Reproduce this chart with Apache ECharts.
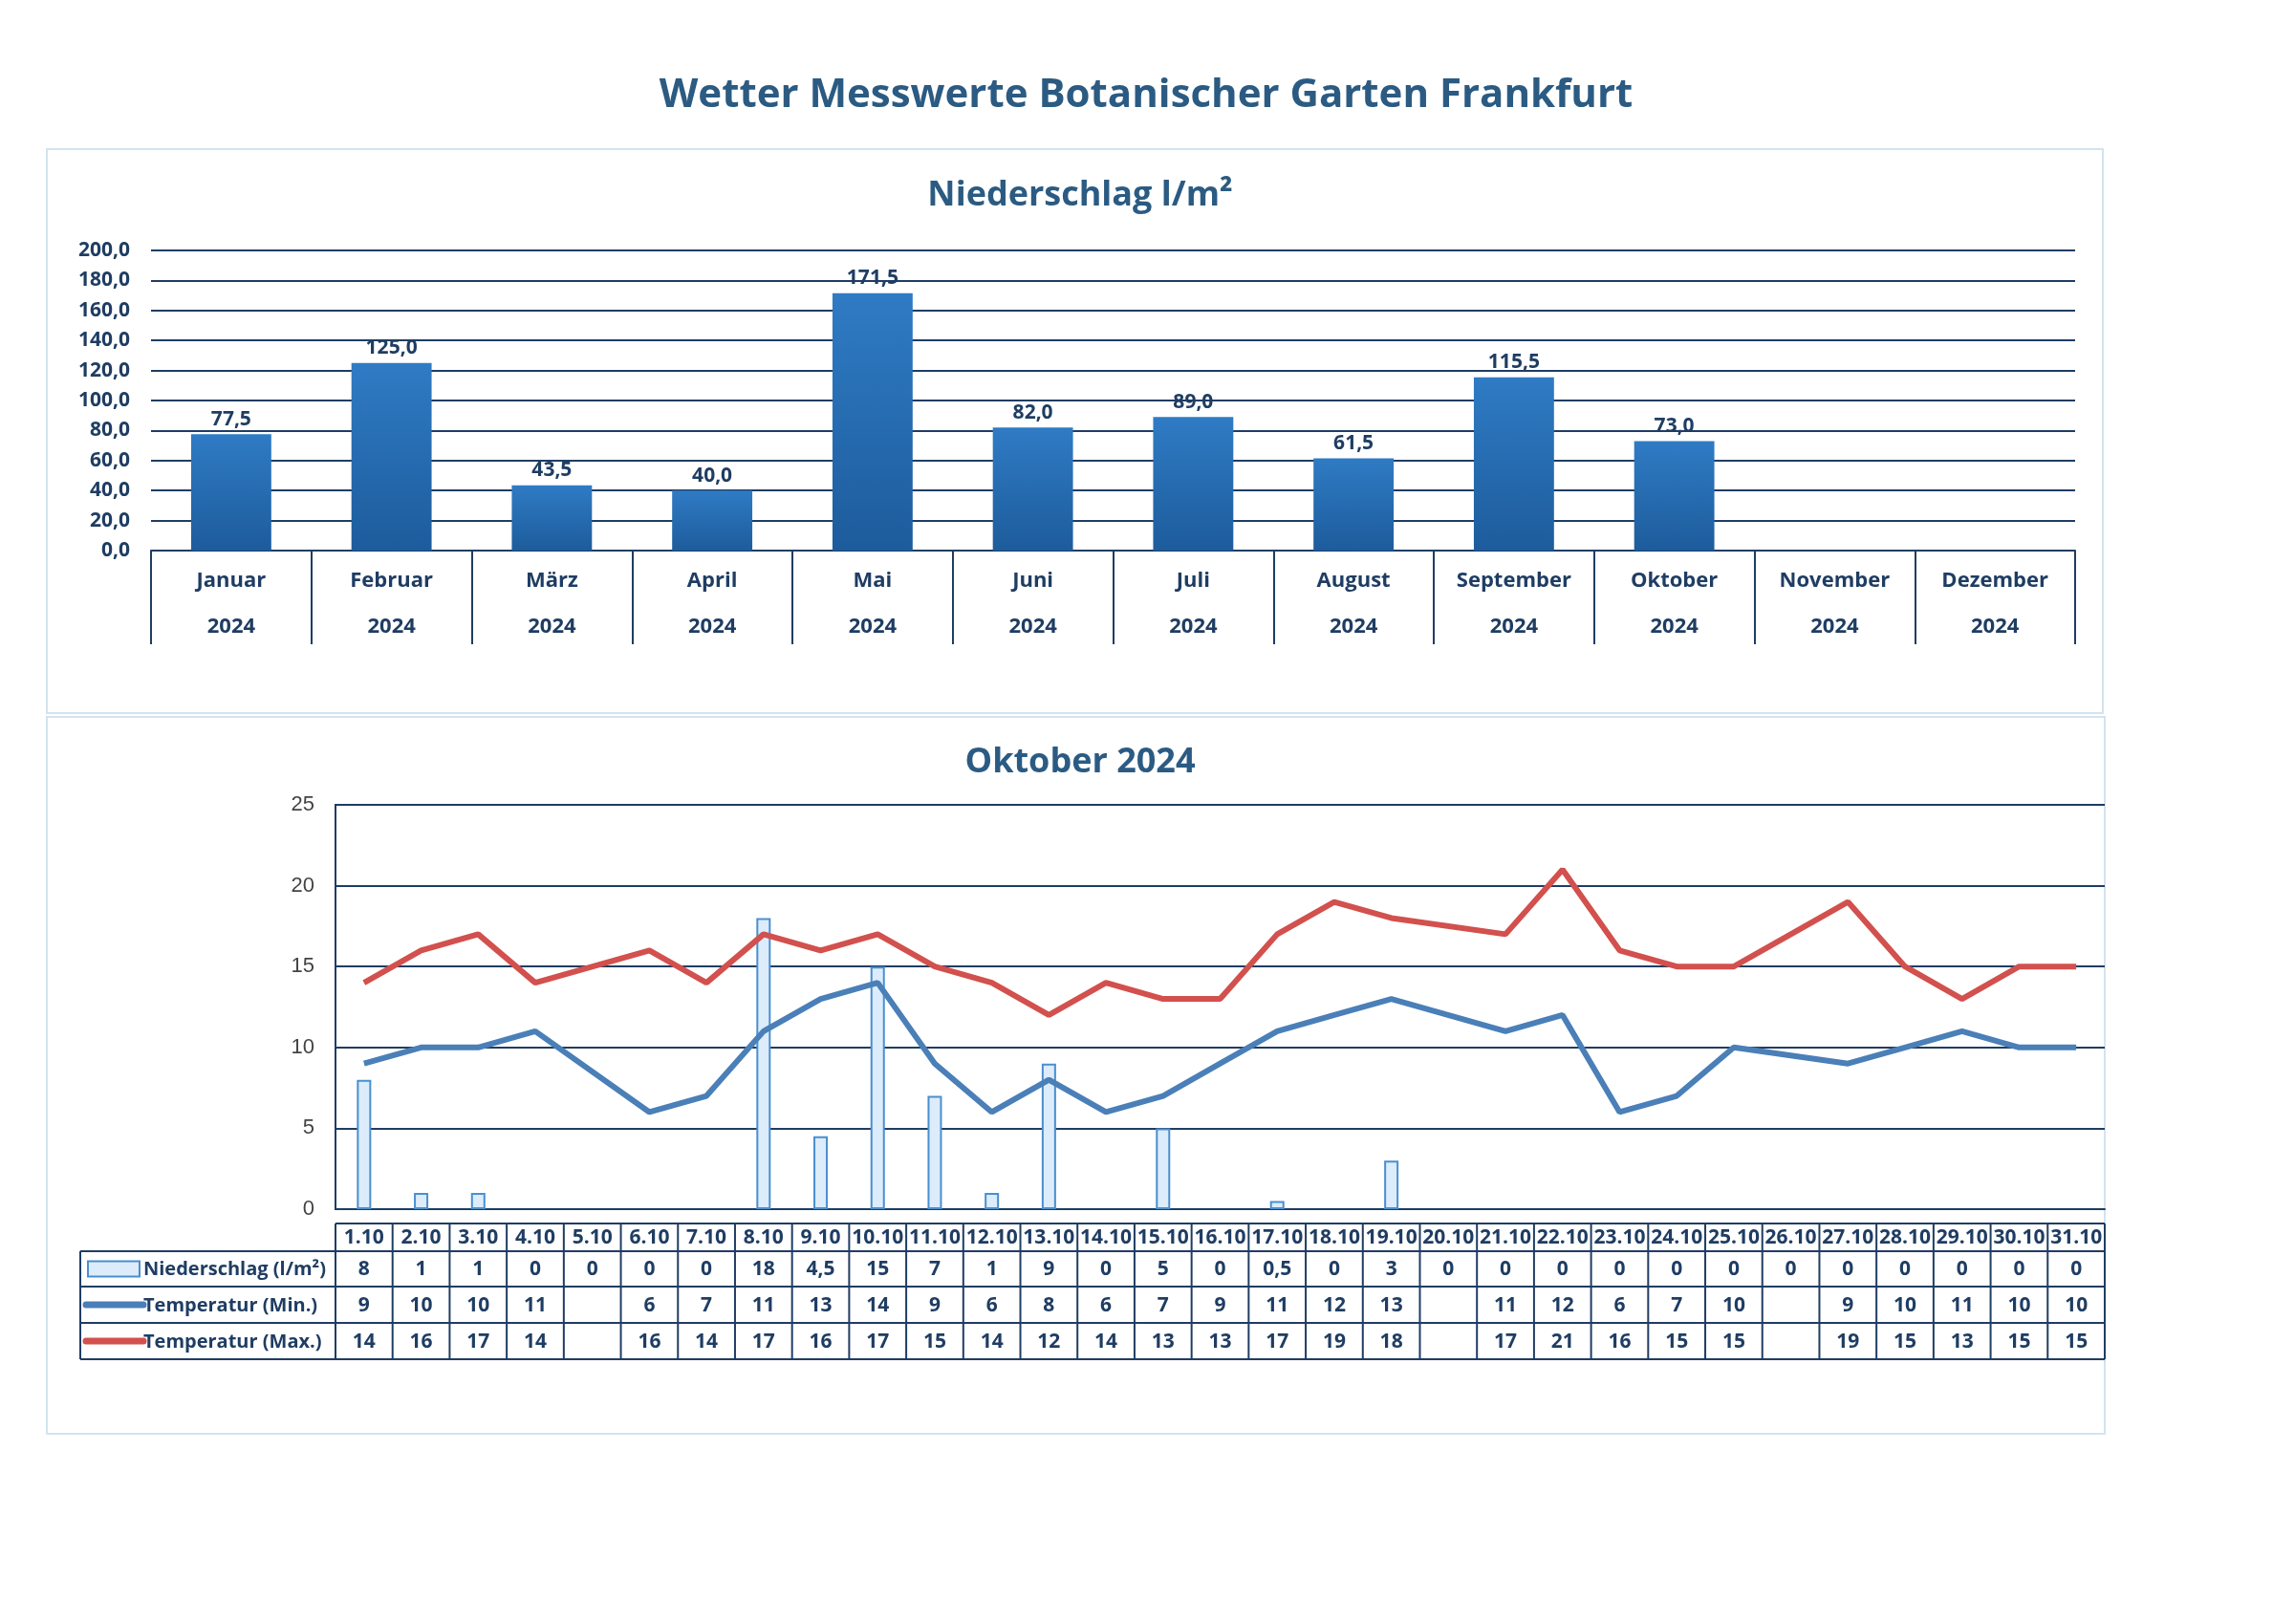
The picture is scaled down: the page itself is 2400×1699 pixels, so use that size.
<!DOCTYPE html>
<html>
<head>
<meta charset="utf-8">
<script src="https://cdn.jsdelivr.net/npm/echarts@6/dist/echarts.min.js"></script>
<style>
html, body { margin: 0; padding: 0; background: #fff; }
#main { width: 2400px; height: 1699px; }
</style>
</head>
<body>
<div id="main"></div>
<script>
// Monatswerte Niederschlag
var months = ['Januar', 'Februar', 'März', 'April', 'Mai', 'Juni', 'Juli', 'August', 'September', 'Oktober', 'November', 'Dezember'];
var monthRain = [77.5, 125.0, 43.5, 40.0, 171.5, 82.0, 89.0, 61.5, 115.5, 73.0, null, null];
var yearLabel = '2024';

// Tageswerte Oktober
var days = ['1.10','2.10','3.10','4.10','5.10','6.10','7.10','8.10','9.10','10.10','11.10','12.10','13.10','14.10','15.10','16.10','17.10','18.10','19.10','20.10','21.10','22.10','23.10','24.10','25.10','26.10','27.10','28.10','29.10','30.10','31.10'];
var dayRain = [8,1,1,0,0,0,0,18,4.5,15,7,1,9,0,5,0,0.5,0,3,0,0,0,0,0,0,0,0,0,0,0,0];
var tMin = [9,10,10,11,null,6,7,11,13,14,9,6,8,6,7,9,11,12,13,null,11,12,6,7,10,null,9,10,11,10,10];
var tMax = [14,16,17,14,null,16,14,17,16,17,15,14,12,14,13,13,17,19,18,null,17,21,16,15,15,null,19,15,13,15,15];

var navy = '#1f3d63';
var font = "'Liberation Sans Narrow', 'Open Sans', sans-serif";
function de(v, d) { return v == null ? '' : v.toFixed(d).replace('.', ','); }
function deNum(v) { return v == null ? '' : String(v).replace('.', ','); }

// Layout der Tabelle unter dem Oktober-Diagramm
var g2 = { left: 351, right: 2202, top: 842, bottom: 1265 };
var tab = { left: 84, head: 1280, rows: [1309, 1346, 1384, 1422] };
var colW = (g2.right - g2.left) / days.length;

var graphics = [
  { type: 'rect', shape: { x: 49, y: 156, width: 2151, height: 590 }, style: { fill: 'none', stroke: '#d3e3ef', lineWidth: 2 } },
  { type: 'rect', shape: { x: 49, y: 750, width: 2153, height: 750 }, style: { fill: 'none', stroke: '#d3e3ef', lineWidth: 2 } }
];
var lineStyle = { stroke: navy, lineWidth: 2 };
graphics.push({ type: 'line', shape: { x1: g2.left, y1: tab.head, x2: g2.right, y2: tab.head }, style: lineStyle });
tab.rows.forEach(function (y) {
  graphics.push({ type: 'line', shape: { x1: tab.left, y1: y, x2: g2.right, y2: y }, style: lineStyle });
});
graphics.push({ type: 'line', shape: { x1: tab.left, y1: tab.rows[0], x2: tab.left, y2: tab.rows[3] }, style: lineStyle });
for (var i = 0; i <= days.length; i++) {
  var x = g2.left + i * colW;
  graphics.push({ type: 'line', shape: { x1: x, y1: tab.head, x2: x, y2: tab.rows[3] }, style: lineStyle });
}
var rowData = [dayRain.map(deNum), tMin.map(deNum), tMax.map(deNum)];
var txt = function (x, y, s) {
  return { type: 'text', x: x, y: y, style: { text: s, fill: navy, font: 'bold 21px ' + font, align: 'center', verticalAlign: 'middle' } };
};
days.forEach(function (d, i) {
  var cx = g2.left + (i + 0.5) * colW;
  graphics.push(txt(cx, (tab.head + tab.rows[0]) / 2 + 1, d));
  rowData.forEach(function (r, k) {
    graphics.push(txt(cx, (tab.rows[k] + tab.rows[k + 1]) / 2 + 1, r[i]));
  });
});
var legendNames = ['Niederschlag (l/m²)', 'Temperatur (Min.)', 'Temperatur (Max.)'];
legendNames.forEach(function (n, k) {
  var cy = (tab.rows[k] + tab.rows[k + 1]) / 2;
  if (k === 0) {
    graphics.push({ type: 'rect', shape: { x: 92, y: cy - 8, width: 54, height: 16 }, style: { fill: '#dcecfa', stroke: '#4a8fd0', lineWidth: 2 } });
  } else {
    graphics.push({ type: 'line', shape: { x1: 90, y1: cy, x2: 150, y2: cy }, style: { stroke: k === 1 ? '#4a7fb8' : '#d2504d', lineWidth: 7, lineCap: 'round' } });
  }
  graphics.push({ type: 'text', x: 150, y: cy + 1, style: { text: n, fill: navy, font: 'bold 20px ' + font, align: 'left', verticalAlign: 'middle' } });
});

var chart = echarts.init(document.getElementById('main'));
chart.setOption({
  backgroundColor: '#fff',
  animation: false,
  textStyle: { fontFamily: font },
  title: [
    { text: 'Wetter Messwerte Botanischer Garten Frankfurt', left: 1194, textAlign: 'center', top: 74, textStyle: { fontSize: 42, fontWeight: 'bold', color: '#2b5b82', fontFamily: "'Open Sans', sans-serif" } },
    { text: 'Niederschlag l/m²', left: 1125, textAlign: 'center', top: 182, textStyle: { fontSize: 36, fontWeight: 'bold', color: '#2b5b82', fontFamily: "'Open Sans', sans-serif" } },
    { text: 'Oktober 2024', left: 1125, textAlign: 'center', top: 775, textStyle: { fontSize: 36, fontWeight: 'bold', color: '#2b5b82', fontFamily: "'Open Sans', sans-serif" } }
  ],
  grid: [
    { left: 158, right: 2400 - 2171, top: 262, height: 314 },
    { left: g2.left, right: 2400 - g2.right, top: g2.top, height: g2.bottom - g2.top, show: true, borderColor: navy, borderWidth: 2 }
  ],
  xAxis: [
    {
      type: 'category', gridIndex: 0, data: months,
      axisLine: { lineStyle: { color: navy, width: 2 } },
      axisTick: { show: true, length: 98, lineStyle: { color: navy, width: 2 } },
      axisLabel: { formatter: function (v) { return v + '\n\n' + yearLabel; }, color: navy, fontWeight: 'bold', fontSize: 22, lineHeight: 24, margin: 20 }
    },
    {
      type: 'category', gridIndex: 1, data: days,
      axisLine: { lineStyle: { color: navy, width: 2 } },
      axisTick: { show: false }, axisLabel: { show: false }
    }
  ],
  yAxis: [
    {
      type: 'value', gridIndex: 0, min: 0, max: 200, interval: 20,
      axisLine: { show: false }, axisTick: { show: false },
      axisLabel: { formatter: function (v) { return de(v, 1); }, color: navy, fontWeight: 'bold', fontSize: 21, margin: 22 },
      splitLine: { lineStyle: { color: navy, width: 2 } }
    },
    {
      type: 'value', gridIndex: 1, min: 0, max: 25, interval: 5,
      axisLine: { show: true, lineStyle: { color: navy, width: 2 } }, axisTick: { show: false },
      axisLabel: { color: '#444', fontSize: 22, margin: 22, fontFamily: "'Liberation Sans', sans-serif" },
      splitLine: { lineStyle: { color: navy, width: 2 } }
    }
  ],
  series: [
    {
      type: 'bar', xAxisIndex: 0, yAxisIndex: 0, data: monthRain, barWidth: '50%',
      itemStyle: { color: new echarts.graphic.LinearGradient(0, 0, 0, 1, [{ offset: 0, color: '#2f7bc4' }, { offset: 1, color: '#1d5c9c' }]) },
      label: { show: true, position: 'top', formatter: function (p) { return de(p.value, 1); }, color: navy, fontWeight: 'bold', fontSize: 21 }
    },
    {
      name: 'Niederschlag (l/m²)', type: 'bar', xAxisIndex: 1, yAxisIndex: 1, barWidth: 15,
      data: dayRain.map(function (v) { return v > 0 ? v : { value: v, itemStyle: { borderWidth: 0, opacity: 0 } }; }),
      itemStyle: { color: '#dcecfa', borderColor: '#4a8fd0', borderWidth: 2 }
    },
    {
      name: 'Temperatur (Min.)', type: 'line', xAxisIndex: 1, yAxisIndex: 1, data: tMin, connectNulls: true,
      symbol: 'none', lineStyle: { color: '#4a7fb8', width: 6 }
    },
    {
      name: 'Temperatur (Max.)', type: 'line', xAxisIndex: 1, yAxisIndex: 1, data: tMax, connectNulls: true,
      symbol: 'none', lineStyle: { color: '#d2504d', width: 6 }
    }
  ],
  graphic: graphics
});
</script>
</body>
</html>
